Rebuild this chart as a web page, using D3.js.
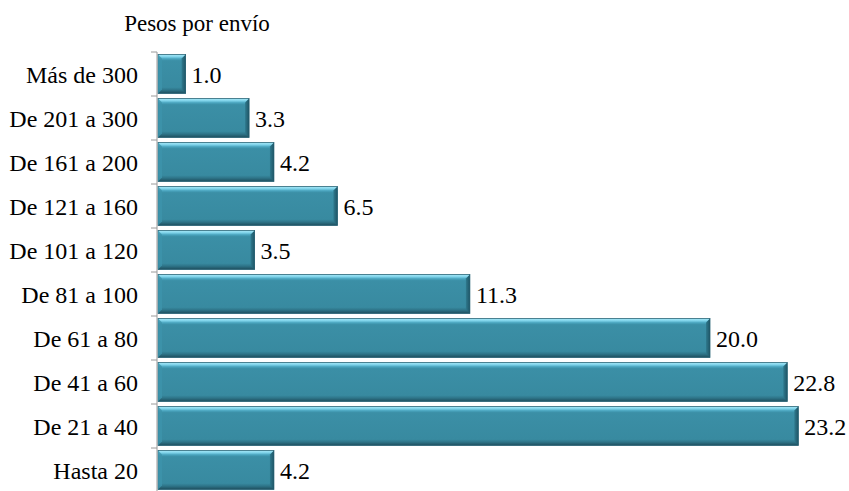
<!DOCTYPE html>
<html>
<head>
<meta charset="utf-8">
<script src="https://cdn.jsdelivr.net/npm/d3@7"></script>
<style>
  html, body { margin: 0; padding: 0; background: #fff; }
  svg { display: block; }
</style>
</head>
<body>
<svg id="chart" width="849" height="491"></svg>
<script>
// Shipment weight brackets, top to bottom, and share of shipments (%)
const categories = ["Más de 300", "De 201 a 300", "De 161 a 200", "De 121 a 160", "De 101 a 120",
                    "De 81 a 100", "De 61 a 80", "De 41 a 60", "De 21 a 40", "Hasta 20"];
const values = [1.0, 3.3, 4.2, 6.5, 3.5, 11.3, 20.0, 22.8, 23.2, 4.2];
const title = "Pesos por envío";

const FONT = "Liberation Serif";
const svg = d3.select("#chart");
const plotLeft = 158, plotTop = 52;

const x = d3.scaleLinear().domain([0, 25]).range([plotLeft, plotLeft + 27.6 * 25]);
const y = d3.scaleBand().domain(categories).range([plotTop, plotTop + 440])
  .paddingInner(0.11).paddingOuter(0.055);

const defs = svg.append("defs");
const vg = defs.append("linearGradient").attr("id", "barFill")
  .attr("x1", 0).attr("y1", 0).attr("x2", 0).attr("y2", 1);
[[0, "#a9e9f8"], [0.06, "#7fd3ea"], [0.11, "#4aa5bf"], [0.16, "#3b8fa6"],
 [0.84, "#388aa0"], [0.91, "#2e7488"], [1, "#1d4d5c"]]
  .forEach(([o, c]) => vg.append("stop").attr("offset", o).attr("stop-color", c));
const hg = defs.append("linearGradient").attr("id", "barEdge")
  .attr("x1", 0).attr("y1", 0).attr("x2", 1).attr("y2", 0);
[[0, "#2f7a8e"], [1, "#1f5566"]]
  .forEach(([o, c]) => hg.append("stop").attr("offset", o).attr("stop-color", c));

const data = categories.map((c, i) => ({ c, v: values[i] }));

// Bars with a bevelled look
const g = svg.append("g");
const bars = g.selectAll("g.bar").data(data).join("g").attr("class", "bar");
bars.append("rect")
  .attr("x", x(0)).attr("y", d => y(d.c))
  .attr("width", d => x(d.v) - x(0)).attr("height", y.bandwidth())
  .attr("fill", "url(#barFill)")
  .attr("stroke", "#2a6577").attr("stroke-width", 0.8);
bars.append("polygon")
  .attr("points", d => {
    const x1 = x(d.v), y0 = y(d.c), y1 = y0 + y.bandwidth(), b = 4;
    return [[x1 - b, y0 + b], [x1, y0], [x1, y1], [x1 - b, y1 - b]].map(p => p.join(",")).join(" ");
  })
  .attr("fill", "url(#barEdge)");
bars.append("polygon")
  .attr("points", d => {
    const x0 = x(0), y0 = y(d.c), y1 = y0 + y.bandwidth(), b = 4;
    return [[x0, y0], [x0 + b, y0 + b], [x0 + b, y1 - b], [x0, y1]].map(p => p.join(",")).join(" ");
  })
  .attr("fill", "#3d94ab").attr("opacity", 0.8);

// Value labels
g.selectAll("text.val").data(data).join("text").attr("class", "val")
  .attr("x", d => x(d.v) + 6)
  .attr("y", d => y(d.c) + y.bandwidth() / 2)
  .attr("dy", "0.36em")
  .attr("font-family", FONT).attr("font-size", 24).attr("fill", "#000")
  .text(d => d.v.toFixed(1));

// Category axis
const axis = d3.axisLeft(y).tickSize(0).tickPadding(19);
const ax = svg.append("g").attr("transform", `translate(${plotLeft - 1},0)`).call(axis);
ax.attr("font-family", FONT);
ax.select(".domain").attr("stroke", "#9a9a9a").attr("d", `M0,${plotTop}V${plotTop + 440}`);
ax.selectAll(".tick text").attr("font-family", FONT).attr("font-size", 24)
  .attr("fill", "#000").attr("dy", "0.36em");
// Tick marks at band boundaries
const bounds = d3.range(categories.length + 1).map(i => plotTop + i * y.step());
ax.selectAll("line.bound").data(bounds).join("line").attr("class", "bound")
  .attr("x1", -6).attr("x2", 0).attr("y1", d => d).attr("y2", d => d)
  .attr("stroke", "#9a9a9a");

// Title
svg.append("text").attr("x", 197).attr("y", 31).attr("text-anchor", "middle")
  .attr("font-family", FONT).attr("font-size", 23).attr("fill", "#000").text(title);
</script>
</body>
</html>
